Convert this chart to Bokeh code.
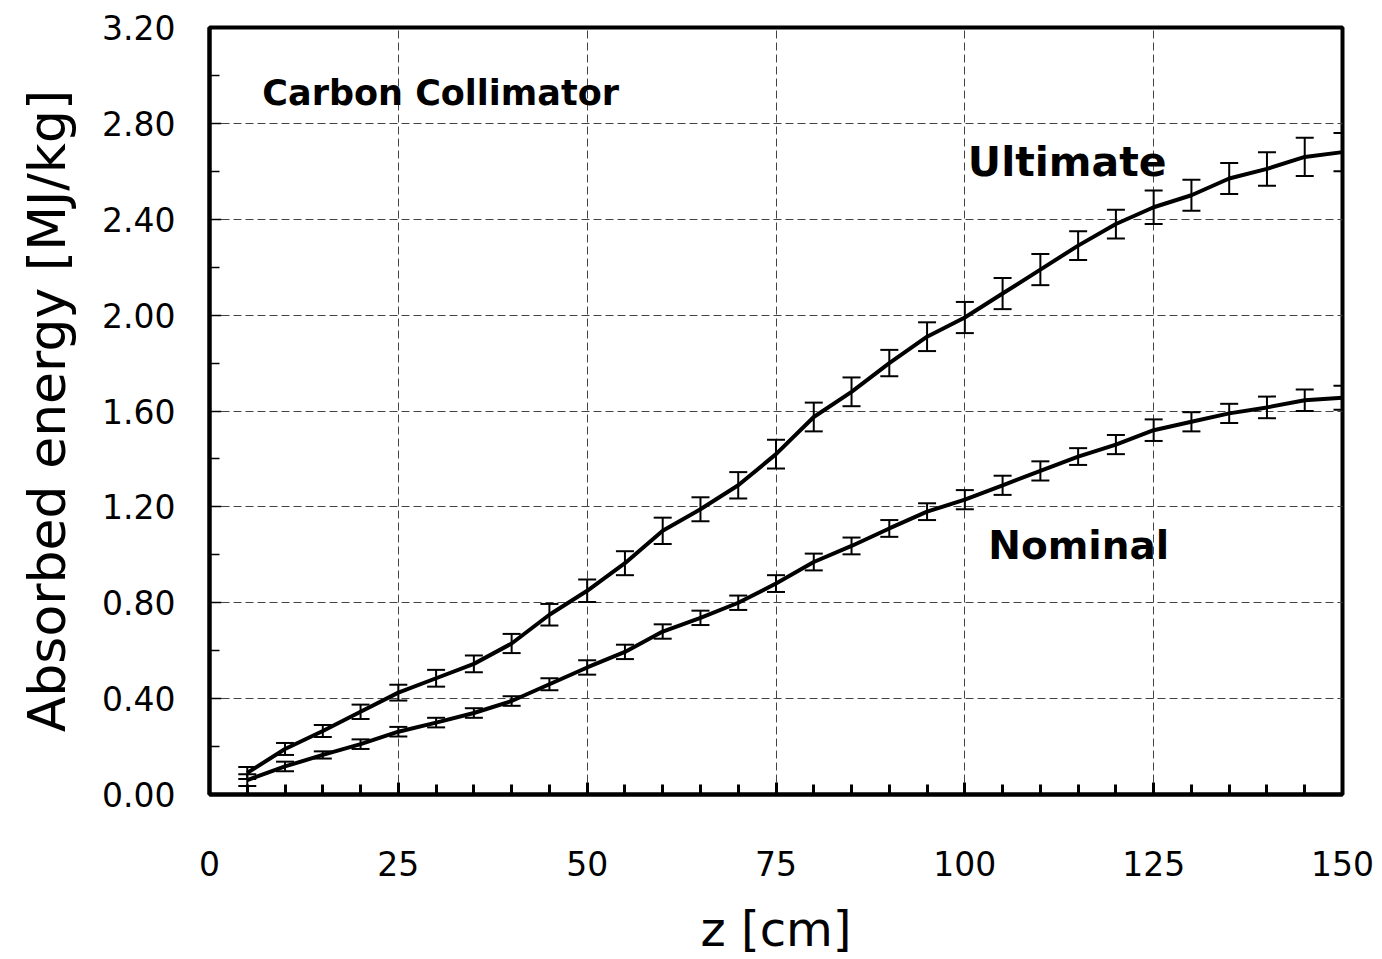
from bokeh.plotting import figure
from bokeh.models import Range1d, FixedTicker, ColumnDataSource, Whisker, TeeHead, Label
from bokeh.embed import file_html
from bokeh.resources import INLINE

# ---- data ----
z = [5, 10, 15, 20, 25, 30, 35, 40, 45, 50, 55, 60, 65, 70, 75,
     80, 85, 90, 95, 100, 105, 110, 115, 120, 125, 130, 135, 140, 145, 150]
ultimate = [0.09, 0.19, 0.265, 0.345, 0.425, 0.485, 0.545, 0.63, 0.75, 0.85,
            0.965, 1.10, 1.19, 1.29, 1.42, 1.575, 1.68, 1.80, 1.91, 1.99,
            2.09, 2.19, 2.29, 2.38, 2.45, 2.50, 2.57, 2.61, 2.66, 2.68]
ultimate_err = [0.025, 0.025, 0.025, 0.03, 0.033, 0.035, 0.035, 0.04, 0.045, 0.047,
                0.05, 0.055, 0.05, 0.055, 0.06, 0.06, 0.06, 0.055, 0.06, 0.065,
                0.065, 0.065, 0.06, 0.06, 0.07, 0.065, 0.065, 0.07, 0.08, 0.08]
nominal = [0.06, 0.117, 0.165, 0.21, 0.262, 0.30, 0.34, 0.39, 0.46, 0.53,
           0.595, 0.68, 0.737, 0.80, 0.88, 0.97, 1.037, 1.11, 1.18, 1.23,
           1.29, 1.35, 1.41, 1.46, 1.52, 1.555, 1.59, 1.615, 1.645, 1.655]
nominal_err = [0.025, 0.02, 0.015, 0.02, 0.02, 0.02, 0.02, 0.02, 0.025, 0.03,
               0.03, 0.03, 0.03, 0.03, 0.035, 0.035, 0.035, 0.035, 0.035, 0.04,
               0.04, 0.04, 0.035, 0.04, 0.045, 0.04, 0.04, 0.045, 0.045, 0.05]

x_major = [0, 25, 50, 75, 100, 125, 150]
x_minor = list(range(0, 151, 5))
y_major = [0.0, 0.4, 0.8, 1.2, 1.6, 2.0, 2.4, 2.8, 3.2]
y_minor = [0.2, 0.6, 1.0, 1.4, 1.8, 2.2, 2.6, 3.0]
y_labels = ["0.00", "0.40", "0.80", "1.20", "1.60", "2.00", "2.40", "2.80", "3.20"]

FONT = "DejaVu Sans"

p = figure(width=1382, height=959, output_backend="svg", toolbar_location=None,
           x_range=Range1d(0, 150), y_range=Range1d(0, 3.2),
           min_border_left=209, min_border_right=40, min_border_top=27,
           min_border_bottom=164)
p.background_fill_color = "white"
p.border_fill_color = "white"
p.outline_line_color = "black"
p.outline_line_width = 4

# axes
p.xaxis.ticker = FixedTicker(ticks=x_major, minor_ticks=x_minor)
p.yaxis.ticker = FixedTicker(ticks=y_major, minor_ticks=y_minor)
p.yaxis.major_label_overrides = {v: s for v, s in zip(y_major, y_labels)}
for ax in (p.xaxis, p.yaxis):
    ax.axis_line_width = 4
    ax.axis_line_color = "black"
    ax.major_tick_in = 12
    ax.major_tick_out = 0
    ax.minor_tick_in = 10
    ax.minor_tick_out = 0
    ax.major_tick_line_color = "black"
    ax.minor_tick_line_color = "black"
    ax.major_label_text_font = FONT
    ax.major_label_text_font_size = "33px"
    ax.major_label_text_color = "black"
    ax.axis_label_text_font = FONT
    ax.axis_label_text_font_style = "normal"
    ax.axis_label_text_color = "black"
p.xaxis.axis_label_text_font_size = "48px"
p.yaxis.axis_label_text_font_size = "52px"
p.xaxis.major_tick_line_width = 3
p.xaxis.minor_tick_line_width = 3
p.yaxis.major_tick_line_width = 1.5
p.yaxis.minor_tick_line_width = 1.5
p.xaxis.major_label_standoff = 56
p.xaxis.axis_label_standoff = 22
p.yaxis.major_label_standoff = 34
p.yaxis.axis_label_standoff = 22
p.xaxis.axis_label = "z [cm]"
p.yaxis.axis_label = "Absorbed energy [MJ/kg]"

# grid
p.xgrid.ticker = FixedTicker(ticks=x_major[1:-1])
p.ygrid.ticker = FixedTicker(ticks=y_major[1:-1])
for g in (p.xgrid, p.ygrid):
    g.grid_line_color = "#444444"
    g.grid_line_width = 1
    g.grid_line_dash = "8 4"

# data
src_u = ColumnDataSource(dict(x=z, y=ultimate,
                              lo=[v - e for v, e in zip(ultimate, ultimate_err)],
                              hi=[v + e for v, e in zip(ultimate, ultimate_err)]))
src_n = ColumnDataSource(dict(x=z, y=nominal,
                              lo=[v - e for v, e in zip(nominal, nominal_err)],
                              hi=[v + e for v, e in zip(nominal, nominal_err)]))

for src in (src_u, src_n):
    p.line("x", "y", source=src, line_color="black", line_width=4)
    w = Whisker(base="x", upper="hi", lower="lo", source=src,
                line_color="black", line_width=2,
                upper_head=TeeHead(size=18, line_color="black", line_width=2),
                lower_head=TeeHead(size=18, line_color="black", line_width=2))
    p.add_layout(w)

# annotations
p.add_layout(Label(x=7, y=2.925, text="Carbon Collimator", text_font=FONT,
                   text_font_size="35px", text_font_style="bold",
                   text_baseline="middle", text_align="left", text_color="black"))
p.add_layout(Label(x=100.4, y=2.64, text="Ultimate", text_font=FONT,
                   text_font_size="41px", text_font_style="bold",
                   text_baseline="middle", text_align="left", text_color="black"))
p.add_layout(Label(x=103.1, y=1.04, text="Nominal", text_font=FONT,
                   text_font_size="39px", text_font_style="bold",
                   text_baseline="middle", text_align="left", text_color="black"))

open("out.html", "w").write(file_html(p, INLINE))
